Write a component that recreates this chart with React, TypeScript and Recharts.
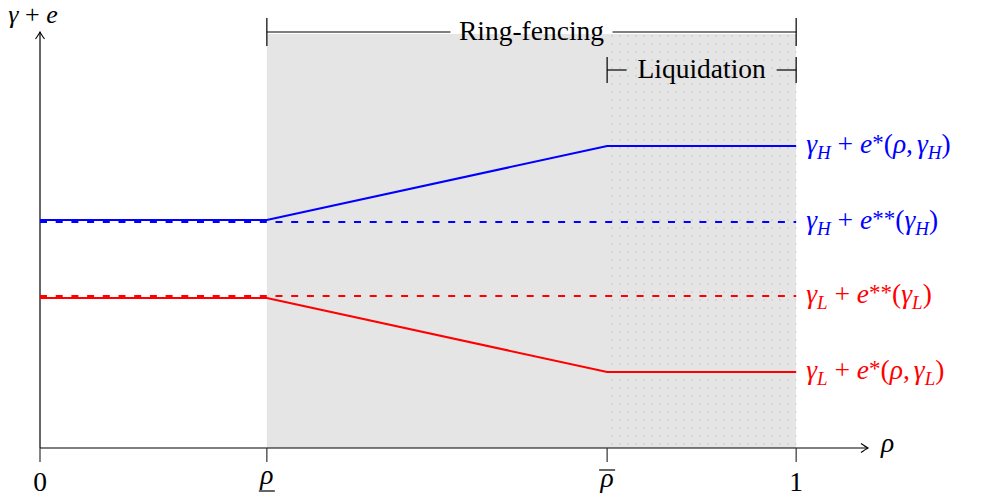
import React from 'react';
import { LineChart, Line, XAxis, YAxis, ReferenceArea, ReferenceLine } from 'recharts';

// values (y in arbitrary units, 0 = horizontal axis)
const rhoPoints = [0, 0.3, 0.75, 1];
const highStar = [2.28, 2.28, 3.02, 3.02];
const highStarStar = [2.26, 2.26, 2.26, 2.26];
const lowStarStar = [1.52, 1.52, 1.52, 1.52];
const lowStar = [1.5, 1.5, 0.76, 0.76];

const xTicks = [0, 0.3, 0.75, 1];
const xTickLabels = ['0', 'ρ', 'ρ', '1'];
const xTickAccents = ['', 'under', 'over', ''];

const ringFencing = [0.3, 1];
const liquidation = [0.75, 1];

const X_MAX = 1.095;
const Y_MAX = 4.16;

const BLUE = '#0000ff';
const RED = '#ff0000';
const FONT = "'Liberation Serif', 'Times New Roman', Times, Tinos, 'Noto Serif', 'DejaVu Serif', serif";
const FS = 27.5;
const SUB = 19;
const txt = { fontFamily: FONT };

const data = rhoPoints.map((rho, i) => ({
  rho,
  highStar: highStar[i],
  highStarStar: highStarStar[i],
  lowStarStar: lowStarStar[i],
  lowStar: lowStar[i],
}));

// gamma_{sub} + e^{stars}(args)
const MathLabel = ({ x, y, color, sub, stars, withRho }: any) => (
  <text x={x} y={y} fill={color} style={txt} fontSize={FS}>
    <tspan fontStyle="italic">γ</tspan>
    <tspan fontStyle="italic" fontSize={SUB} dy={6}>{sub}</tspan>
    <tspan dy={-6}>{' + '}</tspan>
    <tspan fontStyle="italic">e</tspan>
    <tspan fontSize={23} dy={-3}>{stars}</tspan>
    <tspan dy={3}>(</tspan>
    {withRho && <tspan fontStyle="italic">ρ</tspan>}
    {withRho && <tspan>,</tspan>}
    {withRho && <tspan dx={4} fontStyle="italic">γ</tspan>}
    {!withRho && <tspan fontStyle="italic">γ</tspan>}
    <tspan fontStyle="italic" fontSize={SUB} dy={6}>{sub}</tspan>
    <tspan dy={-6}>)</tspan>
  </text>
);

const endLabel = (color: string, sub: string, stars: string, withRho: boolean) => (p: any) => {
  if (p.index !== rhoPoints.length - 1) return null;
  return <MathLabel x={p.x + 10} y={p.y + 7} color={color} sub={sub} stars={stars} withRho={withRho} />;
};

const RhoTick = ({ x, y, payload }: any) => {
  const i = xTicks.indexOf(payload.value);
  const label = xTickLabels[i];
  const accent = xTickAccents[i];
  const isDigit = accent === '';
  const base = accent === 'under' ? y + 20 : accent === 'over' ? y + 23 : y + 27;
  return (
    <g>
      <text x={x} y={base} textAnchor="middle" style={txt} fontSize={FS} fill="#000"
        fontStyle={isDigit ? 'normal' : 'italic'}>
        {label}
      </text>
      {accent === 'under' && <line x1={x - 8} x2={x + 8} y1={y + 27} y2={y + 27} stroke="#000" strokeWidth={1.2} />}
      {accent === 'over' && <line x1={x - 8} x2={x + 8} y1={y + 6} y2={y + 6} stroke="#000" strokeWidth={1.2} />}
    </g>
  );
};

const arrowHead = (tx: number, ty: number, dir: 'right' | 'up') =>
  dir === 'right'
    ? `M${tx - 7},${ty - 4.5} Q${tx - 2},${ty - 1} ${tx},${ty} Q${tx - 2},${ty + 1} ${tx - 7},${ty + 4.5}`
    : `M${tx - 4.5},${ty + 7} Q${tx - 1},${ty + 2} ${tx},${ty} Q${tx + 1},${ty + 2} ${tx + 4.5},${ty + 7}`;

const XArrow = ({ x1, y1, x2, y2 }: any) => (
  <g>
    <line x1={x1} y1={y1} x2={x2} y2={y2} stroke="#000" strokeWidth={1.2} />
    <path d={arrowHead(x2, y2, 'right')} fill="none" stroke="#000" strokeWidth={1.1} />
    <text x={x2 + 13} y={y2 + 4} style={txt} fontSize={FS} fontStyle="italic" fill="#000">ρ</text>
  </g>
);

const YArrow = ({ x1, y1, x2, y2 }: any) => (
  <g>
    <line x1={x1} y1={y1} x2={x2} y2={y2} stroke="#000" strokeWidth={1.2} />
    <path d={arrowHead(x2, y2, 'up')} fill="none" stroke="#000" strokeWidth={1.1} />
    <text x={x2 - 7} y={y2 - 9} textAnchor="middle" style={txt} fontSize={26} fill="#000">
      <tspan fontStyle="italic">γ</tspan>
      <tspan>{' + '}</tspan>
      <tspan fontStyle="italic">e</tspan>
    </text>
  </g>
);

const bracket = (label: string, halfGap: number, tick: number) => ({ x1, y1, x2 }: any) => {
  const mid = (x1 + x2) / 2;
  return (
    <g stroke="#000" strokeWidth={1.2}>
      <line x1={x1} x2={x1} y1={y1 - tick} y2={y1 + tick} />
      <line x1={x2} x2={x2} y1={y1 - tick} y2={y1 + tick} />
      <line x1={x1} x2={mid - halfGap} y1={y1} y2={y1} />
      <line x1={mid + halfGap} x2={x2} y1={y1} y2={y1} />
      <text x={mid} y={y1 + 8} textAnchor="middle" style={txt} fontSize={FS} fill="#000" stroke="none">
        {label}
      </text>
    </g>
  );
};

export default function App() {
  return (
    <div style={{ position: 'absolute', left: 0, top: 0, width: 981, height: 502, background: '#fff', fontFamily: FONT }}>
      <svg width={0} height={0} style={{ position: 'absolute' }}>
        <defs>
          <pattern id="liqDots" width={8} height={8} patternUnits="userSpaceOnUse">
            <circle cx={4} cy={4} r={1.1} fill="#d2d2d2" />
          </pattern>
        </defs>
      </svg>
      <LineChart width={981} height={502} data={data} margin={{ top: 32, right: 113, bottom: 24, left: 40 }}>
        <XAxis
          type="number"
          dataKey="rho"
          domain={[0, X_MAX]}
          ticks={xTicks}
          axisLine={false}
          tickSize={14}
          tickLine={{ stroke: '#333', strokeWidth: 1.2 }}
          tick={<RhoTick />}
          height={30}
          allowDataOverflow
        />
        <YAxis hide type="number" domain={[0, Y_MAX]} allowDataOverflow />
        <ReferenceArea x1={ringFencing[0]} x2={ringFencing[1]} y1={0} y2={4.14} fill="#e5e5e5" fillOpacity={1} stroke="none" ifOverflow="visible" />
        <ReferenceArea x1={liquidation[0]} x2={liquidation[1]} y1={0} y2={4.14} fill="url(#liqDots)" fillOpacity={1} stroke="none" ifOverflow="visible" />
        <ReferenceLine segment={[{ x: 0, y: 0 }, { x: X_MAX, y: 0 }]} shape={XArrow} ifOverflow="visible" />
        <ReferenceLine segment={[{ x: 0, y: 0 }, { x: 0, y: Y_MAX }]} shape={YArrow} ifOverflow="visible" />
        <ReferenceLine segment={[{ x: ringFencing[0], y: Y_MAX }, { x: ringFencing[1], y: Y_MAX }]} shape={bracket('Ring-fencing', 81, 14)} ifOverflow="visible" />
        <ReferenceLine segment={[{ x: liquidation[0], y: 3.78 }, { x: liquidation[1], y: 3.78 }]} shape={bracket('Liquidation', 75, 13)} ifOverflow="visible" />
        <Line type="linear" dataKey="highStarStar" stroke={BLUE} strokeWidth={2} strokeDasharray="7 8.7" dot={false} isAnimationActive={false}
          label={endLabel(BLUE, 'H', '**', false)} />
        <Line type="linear" dataKey="highStar" stroke={BLUE} strokeWidth={2} dot={false} isAnimationActive={false}
          label={endLabel(BLUE, 'H', '*', true)} />
        <Line type="linear" dataKey="lowStarStar" stroke={RED} strokeWidth={2} strokeDasharray="7 8.7" dot={false} isAnimationActive={false}
          label={endLabel(RED, 'L', '**', false)} />
        <Line type="linear" dataKey="lowStar" stroke={RED} strokeWidth={2} dot={false} isAnimationActive={false}
          label={endLabel(RED, 'L', '*', true)} />
      </LineChart>
    </div>
  );
}
